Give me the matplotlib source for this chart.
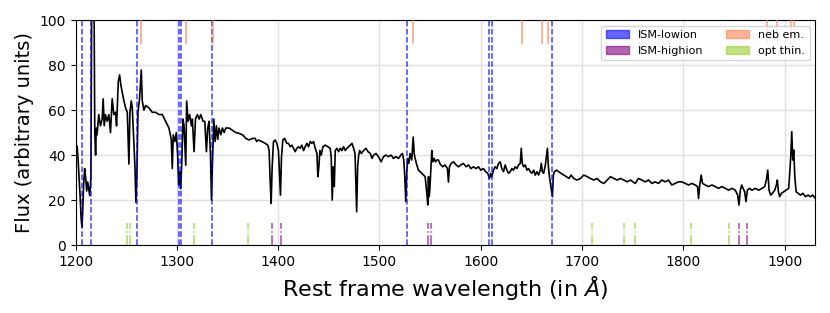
import numpy as np
import matplotlib
matplotlib.use("Agg")
from matplotlib import pyplot as plt
from matplotlib.patches import Patch

# spectrum (rest wavelength in A, flux)
wave = [1200.0, 1200.8, 1201.6, 1202.5, 1203.5, 1204.5, 1205.5, 1206.3, 1207.0, 1208.0,
        1209.0, 1210.0, 1211.0, 1212.0, 1213.0, 1214.0, 1215.2, 1216.0, 1218.0, 1219.0,
        1219.8, 1220.5, 1221.3, 1222.9, 1224.6, 1226.3, 1227.3, 1228.3, 1229.6, 1231.2,
        1232.9, 1234.5, 1236.2, 1237.8, 1239.5, 1240.5, 1242.2, 1243.5, 1244.8, 1246.1,
        1247.8, 1249.4, 1251.1, 1252.7, 1253.7, 1255.0, 1256.0, 1257.6, 1258.6, 1259.6,
        1260.6, 1261.6, 1263.2, 1264.9, 1265.9, 1267.5, 1269.2, 1272.4, 1275.7, 1279.0,
        1282.3, 1285.6, 1288.9, 1292.2, 1294.5, 1295.5, 1296.5, 1298.1, 1299.5, 1300.8,
        1301.8, 1302.8, 1303.8, 1304.8, 1306.1, 1307.1, 1308.8, 1309.7, 1311.1, 1312.7,
        1314.4, 1315.3, 1317.0, 1318.4, 1320.3, 1322.0, 1323.6, 1325.9, 1327.6, 1329.2,
        1330.5, 1331.8, 1333.2, 1334.2, 1335.2, 1336.5, 1337.8, 1339.1, 1340.4, 1341.7,
        1343.4, 1345.0, 1346.7, 1348.3, 1351.6, 1354.9, 1358.2, 1361.5, 1364.8, 1368.1,
        1371.4, 1374.6, 1377.3, 1378.9, 1380.6, 1383.9, 1387.2, 1389.8, 1391.1, 1392.1,
        1393.1, 1394.1, 1395.4, 1397.1, 1398.7, 1400.3, 1401.3, 1402.3, 1403.3, 1404.6,
        1406.3, 1408.6, 1410.2, 1411.9, 1413.5, 1415.2, 1416.8, 1418.5, 1420.1, 1421.8,
        1423.4, 1425.1, 1426.7, 1428.4, 1430.0, 1431.7, 1433.3, 1435.0, 1436.6, 1438.3,
        1439.2, 1440.2, 1441.2, 1442.5, 1444.2, 1446.5, 1449.1, 1451.4, 1452.4, 1453.4,
        1454.4, 1455.4, 1456.4, 1458.0, 1459.7, 1461.3, 1463.0, 1464.6, 1466.3, 1467.9,
        1469.6, 1471.2, 1472.9, 1474.5, 1475.9, 1476.8, 1477.5, 1478.5, 1479.5, 1480.5,
        1482.1, 1484.4, 1486.7, 1488.7, 1491.0, 1492.6, 1494.3, 1496.6, 1499.0, 1501.7,
        1504.0, 1506.3, 1508.9, 1511.5, 1513.8, 1516.1, 1518.8, 1521.1, 1522.7, 1524.0,
        1525.0, 1526.0, 1527.0, 1528.0, 1529.0, 1530.3, 1531.9, 1533.3, 1534.3, 1535.2,
        1536.9, 1538.5, 1540.2, 1541.8, 1543.5, 1545.1, 1546.1, 1547.1, 1547.7, 1548.4,
        1549.1, 1549.7, 1550.7, 1551.7, 1552.7, 1554.0, 1555.3, 1556.6, 1558.3, 1559.9,
        1562.5, 1564.8, 1567.1, 1568.1, 1569.1, 1570.8, 1573.1, 1575.7, 1578.0, 1580.3,
        1582.9, 1585.6, 1587.9, 1590.2, 1592.8, 1595.4, 1597.7, 1600.0, 1602.6, 1604.9,
        1606.9, 1608.6, 1609.9, 1610.9, 1612.6, 1614.2, 1615.9, 1617.5, 1619.2, 1620.8,
        1622.5, 1624.1, 1625.8, 1627.4, 1629.1, 1630.7, 1632.4, 1634.0, 1635.7, 1637.3,
        1639.0, 1640.0, 1641.0, 1642.3, 1643.9, 1645.6, 1647.2, 1648.9, 1650.5, 1652.2,
        1653.8, 1655.5, 1657.1, 1658.8, 1659.8, 1660.8, 1662.1, 1663.8, 1664.8, 1665.8,
        1666.8, 1667.8, 1668.8, 1669.7, 1670.7, 1671.7, 1672.7, 1674.7, 1677.0, 1679.3,
        1681.9, 1684.6, 1686.9, 1689.2, 1691.8, 1695.1, 1698.4, 1701.7, 1705.0, 1708.3,
        1711.6, 1714.9, 1718.2, 1721.5, 1724.8, 1728.1, 1731.4, 1734.7, 1738.0, 1741.2,
        1744.5, 1747.8, 1752.4, 1755.7, 1759.0, 1762.3, 1765.6, 1768.9, 1772.2, 1775.5,
        1778.7, 1782.0, 1785.3, 1788.6, 1791.9, 1795.2, 1798.5, 1801.8, 1805.1, 1808.4,
        1811.7, 1814.0, 1815.0, 1816.0, 1817.6, 1818.9, 1821.6, 1824.9, 1828.2, 1831.5,
        1834.8, 1838.1, 1841.4, 1844.7, 1848.0, 1851.3, 1853.6, 1854.9, 1856.2, 1857.6,
        1858.9, 1860.5, 1861.8, 1863.2, 1865.1, 1867.8, 1871.1, 1874.4, 1877.7, 1880.3,
        1881.9, 1883.3, 1884.6, 1886.2, 1887.9, 1890.2, 1891.8, 1892.8, 1893.8, 1895.1,
        1896.8, 1899.1, 1901.4, 1904.0, 1906.0, 1907.0, 1908.0, 1909.0, 1910.0, 1911.3,
        1913.3, 1915.6, 1917.9, 1920.5, 1923.1, 1925.4, 1927.7, 1930.3]

flux = [46.0, 41.0, 44.0, 38.0, 30.0, 22.0, 12.0, 8.0, 14.0, 27.0,
        34.0, 30.0, 24.0, 28.0, 25.0, 22.0, 30.0, 115.0, 130.0, 50.0,
        40.0, 52.0, 49.0, 58.0, 53.0, 56.0, 65.0, 53.0, 58.0, 55.0,
        58.0, 50.0, 65.0, 58.0, 59.0, 53.0, 72.6, 75.6, 71.0, 68.0,
        64.0, 61.0, 59.0, 36.0, 59.0, 64.0, 61.0, 46.0, 35.6, 19.0,
        32.0, 59.0, 65.0, 77.8, 64.0, 60.0, 62.0, 61.0, 59.0, 59.0,
        58.0, 58.0, 55.0, 52.0, 47.0, 34.0, 49.0, 46.0, 50.0, 40.0,
        26.7, 32.6, 25.0, 35.6, 56.0, 53.0, 35.5, 64.0, 55.0, 58.0,
        53.0, 56.0, 41.5, 56.0, 58.0, 56.0, 58.0, 55.0, 55.0, 41.5,
        52.0, 55.0, 40.0, 20.0, 37.0, 56.0, 46.0, 53.0, 47.0, 52.0,
        49.0, 52.0, 50.0, 52.0, 52.0, 51.0, 50.0, 49.6, 49.0, 47.4,
        46.7, 47.4, 47.4, 46.0, 46.7, 46.0, 45.2, 44.4, 42.0, 29.0,
        18.5, 34.8, 46.0, 46.7, 45.2, 42.0, 31.9, 22.2, 39.0, 46.7,
        47.4, 45.2, 45.2, 43.7, 44.4, 43.0, 41.5, 43.0, 43.7, 43.0,
        44.4, 42.0, 43.7, 45.2, 43.7, 46.0, 45.2, 46.0, 43.0, 40.7,
        30.4, 34.8, 42.0, 40.0, 43.7, 44.4, 43.7, 43.0, 39.0, 20.0,
        34.8, 26.0, 42.0, 43.0, 41.5, 43.0, 42.0, 43.7, 42.0, 43.0,
        43.7, 44.4, 45.2, 43.0, 40.7, 26.0, 14.8, 34.8, 40.0, 42.0,
        40.7, 42.0, 43.0, 41.5, 40.7, 38.5, 40.0, 40.7, 39.3, 37.0,
        39.3, 40.0, 39.3, 40.0, 38.5, 39.3, 38.5, 40.0, 40.7, 37.8,
        30.4, 19.3, 33.0, 38.5, 36.3, 40.7, 37.8, 48.0, 40.7, 38.5,
        35.6, 33.3, 32.6, 31.9, 31.1, 30.4, 26.0, 21.5, 17.8, 30.4,
        21.5, 24.4, 33.3, 42.0, 37.0, 38.5, 37.0, 37.8, 37.8, 36.0,
        34.8, 35.6, 34.0, 28.0, 34.8, 36.3, 37.0, 35.6, 34.8, 35.6,
        36.3, 34.8, 35.6, 34.0, 34.8, 34.0, 34.8, 33.3, 34.0, 32.6,
        31.9, 29.6, 31.9, 30.4, 33.3, 34.8, 34.0, 36.3, 37.0, 34.0,
        32.6, 35.6, 33.3, 31.9, 32.6, 34.0, 33.3, 34.8, 34.0, 35.6,
        36.3, 43.0, 36.3, 34.8, 35.6, 33.3, 34.0, 32.6, 31.9, 33.3,
        31.1, 32.6, 31.1, 33.3, 36.3, 32.6, 31.9, 35.6, 39.3, 43.0,
        34.8, 30.4, 27.4, 24.4, 21.5, 31.1, 32.6, 33.3, 32.6, 31.9,
        31.1, 30.4, 29.6, 31.1, 29.6, 28.9, 29.6, 31.1, 30.4, 29.6,
        28.9, 29.6, 28.1, 27.4, 28.9, 30.4, 29.6, 28.9, 29.6, 28.9,
        28.1, 28.9, 27.4, 29.6, 28.9, 28.1, 28.9, 27.4, 28.1, 27.4,
        28.9, 28.1, 28.9, 26.7, 27.4, 28.1, 28.1, 27.4, 26.7, 27.4,
        26.7, 26.0, 20.7, 26.0, 31.1, 27.4, 26.7, 26.0, 26.7, 26.0,
        25.2, 26.0, 25.2, 24.4, 25.2, 24.4, 22.2, 17.8, 24.4, 26.7,
        25.2, 23.7, 19.3, 24.4, 25.2, 24.4, 25.2, 24.4, 25.2, 26.0,
        28.9, 33.3, 24.4, 22.2, 23.0, 24.4, 26.7, 28.9, 23.7, 21.5,
        23.0, 23.7, 24.4, 25.2, 39.3, 50.4, 37.8, 42.2, 30.4, 23.7,
        23.0, 22.2, 23.0, 21.5, 22.2, 21.5, 22.2, 20.7]

# line lists (rest wavelengths, A)
ism_lowion = [1206.50, 1215.67, 1260.42, 1302.17, 1304.37, 1334.53, 1526.71, 1608.45, 1611.20, 1670.79]
ism_highion = [1393.76, 1402.77, 1548.19, 1550.77, 1854.72, 1862.79]
neb_em = [1264.74, 1309.28, 1335.71, 1533.43, 1640.42, 1660.81, 1666.15, 1882.71, 1892.03, 1906.68, 1908.73]
opt_thin = [1250.58, 1253.81, 1317.22, 1370.13, 1709.60, 1741.55, 1751.91, 1808.01, 1845.52]

fig = plt.figure(figsize=(8.3, 3.13), dpi=100)
ax = fig.add_axes([0.091, 0.217, 0.891, 0.719])

ax.grid(True, color='#e0e0e0', lw=1, zorder=0)
ax.set_axisbelow(True)

for w in ism_lowion:
    ax.axvline(w, color='blue', ls='--', lw=1.1, alpha=0.75, zorder=3)
for w in ism_highion:
    ax.axvline(w, ymin=0, ymax=0.1, color='purple', ls='-.', lw=1.1, alpha=0.7, zorder=3)
for w in opt_thin:
    ax.axvline(w, ymin=0, ymax=0.1, color='yellowgreen', ls='-.', lw=1.1, alpha=0.8, zorder=3)
for w in neb_em:
    ax.axvline(w, ymin=0.9, ymax=1, color='coral', ls='-', lw=1.2, alpha=0.7, zorder=3)

ax.plot(wave, flux, color='black', lw=1.2, zorder=2)

ax.set_xlim(1200, 1930)
ax.set_ylim(0, 100)
ax.set_xticks([1200, 1300, 1400, 1500, 1600, 1700, 1800, 1900])
ax.set_yticks([0, 20, 40, 60, 80, 100])
ax.tick_params(labelsize=10)
ax.set_xlabel(r'Rest frame wavelength (in $Å$)', fontsize=16)
ax.set_ylabel('Flux (arbitrary units)', fontsize=14)
for s in ax.spines.values():
    s.set_color('black')

handles = [Patch(facecolor='blue', edgecolor='blue', alpha=0.6, label='ISM-lowion'),
           Patch(facecolor='purple', edgecolor='purple', alpha=0.6, label='ISM-highion'),
           Patch(facecolor='coral', edgecolor='coral', alpha=0.6, label='neb em.'),
           Patch(facecolor='yellowgreen', edgecolor='yellowgreen', alpha=0.6, label='opt thin.')]
ax.legend(handles=handles, loc='upper right', ncol=2, fontsize=8, handlelength=2.1,
          columnspacing=2.0)

fig.savefig('out.png', dpi=100)
